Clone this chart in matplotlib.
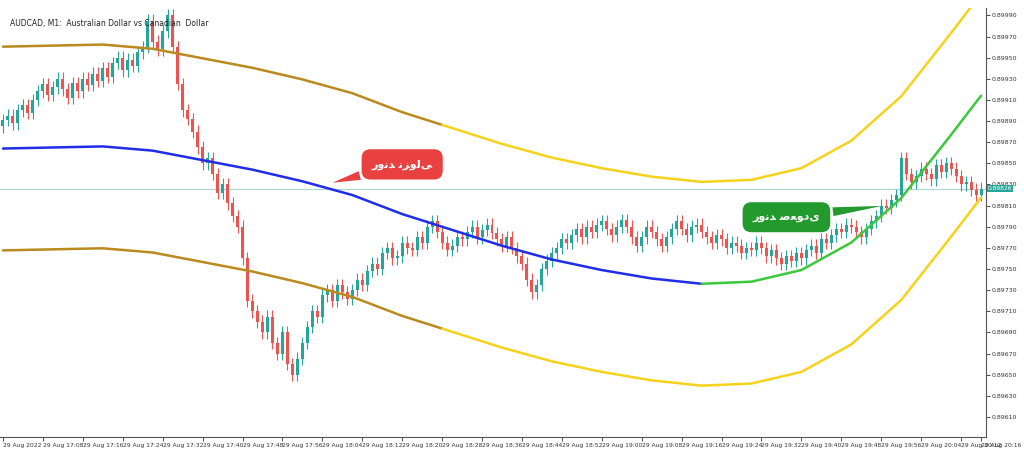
import numpy as np
import matplotlib
matplotlib.use("Agg")
import matplotlib.pyplot as plt

closes = [0.89891,0.89895,0.89888,0.89900,0.89905,0.89898,0.89910,0.89918,0.89925,
0.89915,0.89922,0.89930,0.89920,0.89912,0.89926,0.89918,0.89930,
0.89924,0.89935,0.89928,0.89940,0.89932,0.89945,0.89950,0.89938,
0.89948,0.89942,0.89955,0.89960,0.89985,0.89965,0.89958,0.89975,0.89990,0.89960,
0.89925,0.89900,0.89892,0.89880,0.89865,0.89850,
0.89855,0.89840,0.89822,0.89830,0.89812,0.89800,0.89790,0.89760,0.89720,0.89710,
0.89700,0.89690,0.89705,0.89680,0.89670,0.89690,0.89660,0.89650,0.89665,0.89680,
0.89695,0.89710,0.89705,0.89725,0.89730,0.89720,0.89735,0.89728,0.89722,0.89730,
0.89740,0.89735,0.89748,0.89755,0.89750,0.89765,0.89770,0.89760,0.89762,0.89775,0.89770,0.89768,0.89780,0.89775,0.89790,
0.89795,0.89785,0.89775,0.89768,0.89772,0.89780,0.89778,0.89785,0.89790,0.89780,0.89787,0.89792,0.89784,0.89778,0.89772,
0.89780,0.89770,0.89762,0.89755,0.89740,0.89728,0.89735,0.89750,0.89758,0.89765,0.89770,0.89778,
0.89775,0.89782,0.89788,0.89780,0.89790,0.89785,0.89792,0.89795,0.89788,0.89782,0.89790,0.89796,0.89790,0.89780,0.89772,0.89780,0.89790,0.89785,0.89778,0.89772,0.89780,0.89788,0.89795,0.89788,0.89782,0.89790,0.89792,0.89785,
0.89780,0.89775,0.89782,0.89778,0.89770,0.89775,0.89772,0.89765,0.89770,0.89768,0.89775,0.89770,0.89762,0.89768,0.89760,0.89755,0.89762,0.89758,0.89765,0.89760,
0.89768,0.89772,0.89765,0.89778,0.89775,0.89782,0.89788,0.89785,0.89792,0.89790,0.89785,0.89780,0.89788,0.89795,0.89800,0.89810,0.89808,0.89815,0.89820,0.89855,
0.89840,0.89832,0.89838,0.89845,0.89840,0.89835,0.89848,0.89842,0.89850,0.89845,0.89838,0.89830,0.89832,0.89825,0.89820,0.89826]
open0 = 0.89885
wick = 0.00006

mid_minutes = [0,10,20,30,40,50,60,70,80,90,100,110,120,130,140,150,160,170,180,190,196]
mid_prices = [0.89864,0.89865,0.89866,0.89862,0.89853,0.89844,0.89833,0.89820,0.89802,0.89787,
              0.89772,0.89759,0.89749,0.89741,0.89736,0.89738,0.89749,0.89775,0.89817,0.89877,0.89914]
band_width = 0.000964

tick_minutes = list(range(0, 193, 8)) + [196]
tick_labels = ["29 Aug 2022"] + [f"29 Aug {(17*60+m)//60}:{(17*60+m)%60:02d}" for m in range(8, 193, 8)] + ["29 Aug 20:16"]
last_price = 0.89826

fig = plt.figure(figsize=(10.24, 4.53), dpi=100)
ax = fig.add_axes([0.0, 16/453, 986/1024, 429/453])
n = len(closes)
opens = [open0] + closes[:-1]
up_c, dn_c = "#26a69a", "#ef5350"
for i in range(n):
    o, c = opens[i], closes[i]
    col = up_c if c >= o else dn_c
    ax.vlines(i, min(o, c) - wick, max(o, c) + wick, color=col, lw=0.8, zorder=2)
    ax.bar(i, max(abs(c - o), 0.000008), bottom=min(o, c), width=0.6, color=col, lw=0, zorder=3)

mm = np.array(mid_minutes); mp = np.array(mid_prices)
split_mid = 140; split_band = 88
for arr, c1, c2, sp in [(mp, "#1f2de8", "#3cc83c", split_mid),
                        (mp + band_width, "#bb8a1e", "#f5d31c", split_band),
                        (mp - band_width, "#bb8a1e", "#f5d31c", split_band)]:
    yv = np.interp(sp, mm, arr)
    ax.plot(list(mm[mm < sp]) + [sp], list(arr[mm < sp]) + [yv], color=c1, lw=1.8, zorder=4, solid_capstyle="round")
    ax.plot([sp] + list(mm[mm > sp]), [yv] + list(arr[mm > sp]), color=c2, lw=1.8, zorder=4, solid_capstyle="round")

ax.axhline(last_price, color="#a8d8d4", lw=0.8, zorder=1)

ax.set_xlim(-0.6, 197.0)
ax.set_ylim(0.89591, 0.89997)
ax.yaxis.tick_right()
yt = np.arange(0.89610, 0.89991, 0.0002)
ax.set_yticks(yt)
ax.set_yticklabels([f"{v:.5f}" for v in yt], fontsize=4.5)
ax.set_xticks(tick_minutes)
ax.set_xticklabels(tick_labels, fontsize=4.3, ha="left")
ax.tick_params(length=3, width=0.6, pad=1, colors="#333333")
for s in ["top", "left"]:
    ax.spines[s].set_visible(False)
for s in ["right", "bottom"]:
    ax.spines[s].set_color("#555555")
ax.text(197.4, last_price, "0.89826", fontsize=4.3, color="white", va="center", ha="left",
        bbox=dict(boxstyle="square,pad=0.15", fc="#26a69a", ec="none"), clip_on=False, zorder=7)

ax.text(0.01, 0.975, "AUDCAD, M1:  Australian Dollar vs Canadian  Dollar", transform=ax.transAxes,
        fontsize=5.5, va="top", color="#222222")

down_txt = "\uFEAD\uFEED\uFEE7\uFEAA \uFEE7\uFEB0\uFEED\uFEDF\uFEF0"
up_txt = "\uFEAD\uFEED\uFEE7\uFEAA \uFEBB\uFECC\uFEEE\uFEA9\uFEEF"
ax.annotate(down_txt, xy=(65.5, 0.89831), xytext=(80, 0.89849), fontsize=8, fontweight="bold",
            color="white", ha="center", va="center", family="DejaVu Sans",
            bbox=dict(boxstyle="round,pad=0.9,rounding_size=0.8", fc="#e8413f", ec="none"),
            arrowprops=dict(arrowstyle="wedge,tail_width=0.8,shrink_factor=0.5", fc="#e8413f", ec="none"), zorder=6)
ax.annotate(up_txt, xy=(176.7, 0.89810), xytext=(157, 0.89799), fontsize=8, fontweight="bold",
            color="white", ha="center", va="center", family="DejaVu Sans",
            bbox=dict(boxstyle="round,pad=0.9,rounding_size=0.8", fc="#239a2e", ec="none"),
            arrowprops=dict(arrowstyle="wedge,tail_width=0.8,shrink_factor=0.5", fc="#239a2e", ec="none"), zorder=6)

fig.savefig("out.png", dpi=100)
